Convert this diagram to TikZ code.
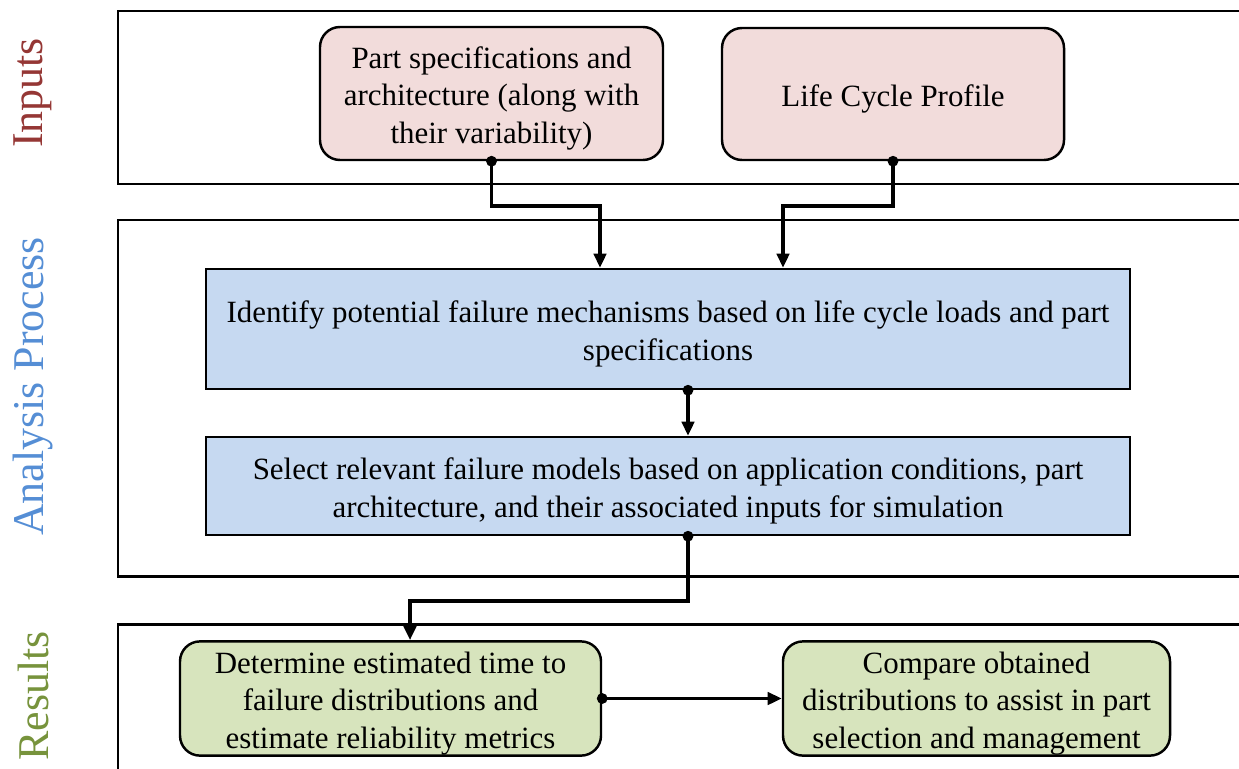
\documentclass[tikz,border=0pt]{standalone}
\usepackage{fontspec}
\setmainfont{Liberation Serif}
\usetikzlibrary{arrows.meta}

\definecolor{inFill}{HTML}{F2DCDB}
\definecolor{anFill}{HTML}{C6D9F1}
\definecolor{reFill}{HTML}{D7E4BD}
\definecolor{inText}{HTML}{953735}
\definecolor{anText}{HTML}{558ED5}
\definecolor{reText}{HTML}{77933C}
\def\tstrut{\rule{0pt}{18pt}}

\tikzstyle{frame} = [draw, line width=1.7pt]
\tikzstyle{box} = [draw, line width=1.4pt, align=center, inner sep=0mm,
                   font=\fontsize{17.6}{21.6}\selectfont]
\tikzstyle{inbox} = [box, rounded corners=0.4cm, fill=inFill]
\tikzstyle{anbox} = [box, fill=anFill, minimum width=18.48cm]
\tikzstyle{rebox} = [box, rounded corners=0.4cm, fill=reFill,
                     minimum height=2.22cm]
\tikzstyle{side} = [rotate=90, inner sep=0mm,
                    font=\fontsize{25}{30}\selectfont]
\tikzstyle{conn} = [line width=2pt, shorten <=-3pt,
                    {Circle[length=6pt]}-{Triangle[length=8pt,width=7pt]}]

\begin{document}
\begin{tikzpicture}
\useasboundingbox (0,0) rectangle (24.78,-15.36);
\clip (0,0) rectangle (24.78,-15.36);

% section frames
\draw[frame] (25.5,-0.22) -- (2.36,-0.22) -- (2.36,-3.68) -- (25.5,-3.68);
\draw[frame] (25.5,-4.40) -- (2.36,-4.40) -- (2.36,-11.52) -- (25.5,-11.52);
\draw[frame] (25.5,-12.48) -- (2.36,-12.48) -- (2.36,-16);

\node[side,text=inText] at (0.66,-1.86) (lblIn) {Inputs};
\node[side,text=anText] at (0.66,-7.73) (lblAn) {Analysis Process};
\node[side,text=reText] at (0.66,-13.92) (lblRe) {Results};

% inputs
\node[inbox,minimum width=6.86cm,minimum height=2.66cm]
     at (9.83,-1.87) (spec)
     {\tstrut Part specifications and\\architecture (along with\\their variability)};
\node[inbox,minimum width=6.84cm,minimum height=2.64cm]
     at (17.86,-1.88) (life)
     {\tstrut Life Cycle Profile};

% analysis process
\node[anbox,minimum height=2.4cm]
     at (13.36,-6.58) (ident)
     {\tstrut Identify potential failure mechanisms based on life cycle loads and part\\specifications};
\node[anbox,minimum height=1.96cm]
     at (13.36,-9.72) (select)
     {\tstrut Select relevant failure models based on application conditions, part\\architecture, and their associated inputs for simulation};

% results
\node[rebox,minimum width=8.42cm]
     at (7.81,-13.97) (determ)
     {\tstrut Determine estimated time to\\failure distributions and\\estimate reliability metrics};
\node[rebox,minimum width=7.74cm]
     at (19.53,-13.97) (compare)
     {\tstrut Compare obtained\\distributions to assist in part\\selection and management};

\draw[conn] (spec.south) -- ++(0,-0.9) -| ([xshift=-1.36cm]ident.north);
\draw[conn] (life.south) -- ++(0,-0.9) -| ([xshift=2.3cm]ident.north);
\draw[conn] ([xshift=0.4cm]ident.south) -- ([xshift=0.4cm]select.north);
\draw[conn] ([xshift=0.4cm]select.south) -- ++(0,-1.3)
     -| ([xshift=0.39cm]determ.north);
\draw[conn] (determ.east) -- (compare.west);

\end{tikzpicture}
\end{document}
